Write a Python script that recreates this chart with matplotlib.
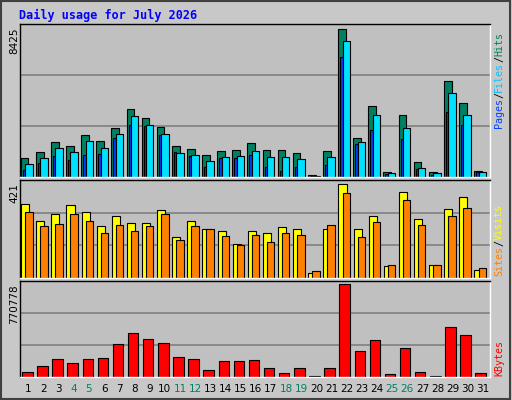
import matplotlib
matplotlib.use("Agg")
import matplotlib.pyplot as plt
from matplotlib.patches import Rectangle
import numpy as np

days = list(range(1, 32))
weekend = [4, 5, 11, 12, 18, 19, 25, 26]
hits = [1106,1449,2020,1792,2421,2078,2821,3850,3336,2878,1792,1620,1277,1506,1563,1963,1563,1563,1391,133,1506,8425,2249,4022,305,3507,877,305,5451,4193,362]
files = [762,1106,1677,1449,2078,1677,2478,3450,2992,2478,1391,1277,934,1163,1220,1506,1163,1163,1048,76,1163,7738,2020,3507,248,2821,534,248,4765,3507,305]
pages = [419,820,1220,991,1277,1334,2249,2992,2935,2421,1449,1220,591,1106,1106,1277,591,362,591,76,705,6823,1906,2707,191,2192,477,133,3679,2992,305]
visits = [329,256,288,325,297,233,279,247,247,302,183,256,220,210,151,210,201,229,220,23,220,421,220,279,55,384,265,59,307,361,37]
sites = [297,233,242,288,256,201,238,210,233,284,169,233,220,188,146,192,160,201,192,32,238,380,183,252,59,348,238,59,275,311,46]
kbytes = [45008,87203,146276,112520,146276,154715,272861,365690,315056,281300,163154,146276,61886,129398,129398,137837,70325,36569,70325,11252,70325,770778,213788,306617,28130,239105,45008,11252,416324,348812,36569]

W, H = 512, 400
fig = plt.figure(figsize=(W/100, H/100), dpi=100)
fig.patch.set_facecolor('#C8C8C8')
fig.patches.append(Rectangle((0.002, 0.003), 0.995, 0.994, transform=fig.transFigure,
                             fill=False, edgecolor='#404040', linewidth=1.5))
bg = '#C0C0C0'
x = np.array(days) - 1

def panel(top, bottom):
    ax = fig.add_axes([20/W, 1-bottom/H, 470/W, (bottom-top)/H])
    ax.set_facecolor(bg)
    ax.set_xlim(-0.05, 31.05)
    ax.set_xticks([])
    ax.set_yticks([])
    for s in ax.spines.values():
        s.set_color('black'); s.set_linewidth(1)
    ax.spines['bottom'].set_color('white'); ax.spines['right'].set_color('white')
    return ax

def grid(ax, m):
    for f in (1/3, 2/3):
        ax.axhline(m*f, color='#808080', lw=1.2, zorder=0)

ek = dict(edgecolor='black', linewidth=0.8, align='edge')
a1 = panel(24, 177)
m1 = max(hits)*1.035
a1.set_ylim(0, m1); grid(a1, m1)
a1.bar(x+0.0, hits, 0.51, color='#008060', **ek)
a1.bar(x+0.13, pages, 0.16, color='#0040FF', **ek)
a1.bar(x+0.29, files, 0.49, color='#00E0FF', **ek)

a2 = panel(180, 278)
m2 = max(visits)*1.04
a2.set_ylim(0, m2); grid(a2, m2)
a2.bar(x+0.02, visits, 0.54, color='#FFFF00', **ek)
a2.bar(x+0.29, sites, 0.49, color='#FF8000', **ek)

a3 = panel(281, 377)
m3 = max(kbytes)*1.03
a3.set_ylim(0, m3); grid(a3, m3)
a3.bar(x+0.09, kbytes, 0.69, color='#FF0000', **ek)

mono = 'DejaVu Sans Mono'
fig.text(19/W, 1-15/H, 'Daily usage for July 2026', color='#0000FF', fontsize=8.5,
         fontweight='bold', family=mono, va='center')
for d in days:
    fig.text((20 + (d-1+0.55)*470/31)/W, 1-389/H, str(d), ha='center', va='center',
             fontsize=7.5, color='#008060' if d in weekend else 'black')
for txt, ytop in ((str(max(hits)), 27), (str(max(visits)), 183), (str(max(kbytes)), 284)):
    fig.text(14/W, 1-ytop/H, txt, rotation=90, ha='center', va='top', fontsize=7.5)

def rlabel(parts, ymid):
    total = sum(len(p[0]) for p in parts)
    ch = 6.0
    y = ymid + total*ch/2
    for t, c in parts:
        fig.text(499/W, 1-y/H, t, rotation=90, ha='center', va='bottom', color=c,
                 fontsize=7.2, family=mono)
        y -= len(t)*ch

rlabel([('Pages', '#0040FF'), ('/', 'black'), ('Files', '#00C0FF'), ('/', 'black'), ('Hits', '#008060')], 80)
rlabel([('Sites', '#FF8000'), ('/', 'black'), ('Visits', '#FFFF00')], 240)
rlabel([('KBytes', '#FF0000')], 358)

fig.savefig('out.png', dpi=100, facecolor=fig.get_facecolor())
